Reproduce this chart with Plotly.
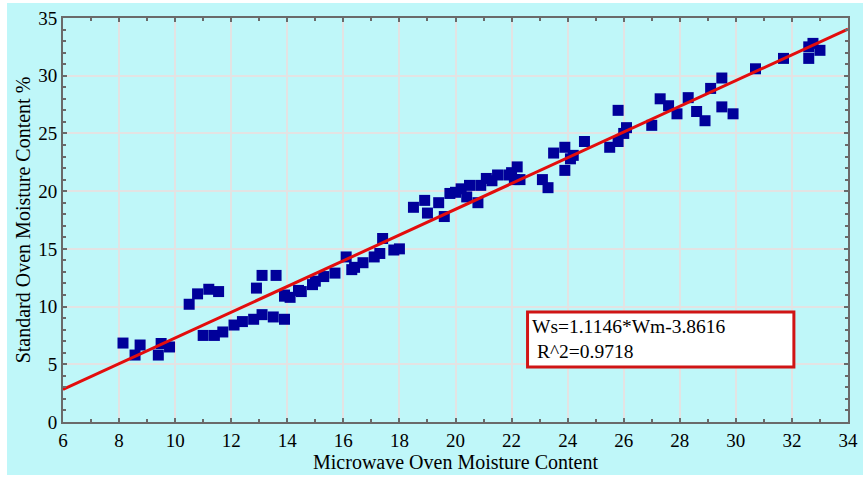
import plotly.graph_objects as go

# Data
microwave_mc = [8.14, 8.57, 8.75, 9.4, 9.5, 9.8, 10.5, 10.8, 11.2, 11.55,
                11.0, 11.4, 11.7, 12.1, 12.4, 12.8, 13.1, 13.5, 13.9, 12.9,
                13.1, 13.6, 13.9, 14.4, 14.1, 14.5, 14.9, 15.3, 15.7, 16.1,
                16.4, 16.7, 17.1, 17.4, 17.8, 18.0, 18.5, 18.9, 19.0, 19.4,
                19.6, 19.8, 20.2, 20.4, 20.8, 20.5, 20.9, 21.1, 21.5, 21.9,
                22.2, 22.1, 22.3, 23.1, 23.3, 23.5, 23.9, 24.1, 23.9, 24.2,
                24.6, 25.5, 25.8, 26.0, 26.1, 25.8, 27.0, 27.3, 27.6, 27.9,
                28.3, 28.6, 28.9, 29.1, 29.5, 29.5, 29.9, 30.7, 31.7, 32.6,
                32.6, 33.0, 32.75, 13.9, 15.0, 16.3, 17.3, 20.0, 21.3, 22.0]
standard_mc = [6.84, 5.8, 6.67, 5.8, 6.8, 6.5, 10.2, 11.1, 11.5, 11.3,
               7.5, 7.5, 7.8, 8.4, 8.7, 8.9, 9.3, 9.1, 8.9, 11.6,
               12.7, 12.7, 11.0, 11.4, 10.8, 11.3, 11.9, 12.6, 12.9, 14.3,
               13.4, 13.8, 14.3, 15.9, 14.9, 15.0, 18.6, 19.2, 18.1, 19.0,
               17.8, 19.8, 20.2, 19.5, 19.0, 20.5, 20.5, 21.1, 21.4, 21.4,
               22.1, 21.0, 21.0, 21.0, 20.3, 23.3, 23.8, 22.8, 21.8, 23.1,
               24.3, 23.8, 24.3, 25.0, 25.5, 27.0, 25.7, 28.0, 27.4, 26.7,
               28.1, 26.9, 26.1, 28.9, 29.8, 27.3, 26.7, 30.6, 31.5, 32.5,
               31.5, 32.2, 32.8, 10.9, 12.2, 13.2, 14.6, 19.9, 20.9, 21.6]

fit_slope = 1.1146
fit_intercept = -3.8616
fit_x = [6, 34]
fit_y = [fit_slope * v + fit_intercept for v in fit_x]

x_ticks = [6, 8, 10, 12, 14, 16, 18, 20, 22, 24, 26, 28, 30, 32, 34]
y_ticks = [0, 5, 10, 15, 20, 25, 30, 35]

equation_text = "Ws=1.1146*Wm-3.8616<br> R^2=0.9718"

fig = go.Figure()
fig.add_trace(go.Scatter(
    x=microwave_mc, y=standard_mc, mode="markers",
    marker=dict(symbol="square", size=11, color="#00009a", line=dict(width=0)),
    showlegend=False, hoverinfo="skip"))
fig.add_trace(go.Scatter(
    x=fit_x, y=fit_y, mode="lines",
    line=dict(color="#e30d0d", width=3),
    showlegend=False, hoverinfo="skip", cliponaxis=True))

font_family = "Liberation Serif, Times New Roman, serif"

axis_common = dict(
    showgrid=True, gridcolor="#e3e3e3", gridwidth=1.5,
    showline=True, linecolor="#6a6a6a", linewidth=2, mirror="ticks",
    ticks="inside", ticklen=4, tickcolor="#6a6a6a", tickwidth=1.5,
    zeroline=False, automargin=False,
    tickfont=dict(family=font_family, size=19, color="black"),
)

fig.update_layout(
    width=863, height=477,
    margin=dict(l=63, r=15, t=18, b=55),
    paper_bgcolor="white",
    plot_bgcolor="white",
    font=dict(family=font_family, color="black"),
    xaxis=dict(range=[6, 34], tickvals=x_ticks,
               minor=dict(dtick=1, ticks="inside", ticklen=3, tickcolor="#6a6a6a", showgrid=False),
               title=dict(text="Microwave Oven Moisture Content",
                          font=dict(family=font_family, size=20), standoff=4),
               **axis_common),
    yaxis=dict(range=[0, 35], tickvals=y_ticks,
               minor=dict(dtick=1, ticks="inside", ticklen=3, tickcolor="#6a6a6a", showgrid=False),
               title=dict(text="Standard Oven Moisture Content %",
                          font=dict(family=font_family, size=20), standoff=2),
               **axis_common),
    shapes=[
        # cyan page background (with thin white margin at left/top as in reference)
        dict(type="rect", xref="paper", yref="paper",
             x0=(7 - 63) / 785, x1=(863 - 63) / 785,
             y0=-(475 - 422) / 404, y1=1 + (18 - 3) / 404,
             fillcolor="#bff7f9", line=dict(width=0), layer="below"),
        # equation box
        dict(type="rect", xref="x", yref="y",
             x0=22.57, x1=32.07, y0=4.76, y1=9.52,
             fillcolor="white", line=dict(color="#d01515", width=3), layer="above"),
    ],
    annotations=[
        dict(x=22.65, y=7.15, xref="x", yref="y", text=equation_text,
             showarrow=False, xanchor="left", yanchor="middle", align="left",
             font=dict(family=font_family, size=19.5, color="black")),
    ],
)

fig.write_html("out.html")
